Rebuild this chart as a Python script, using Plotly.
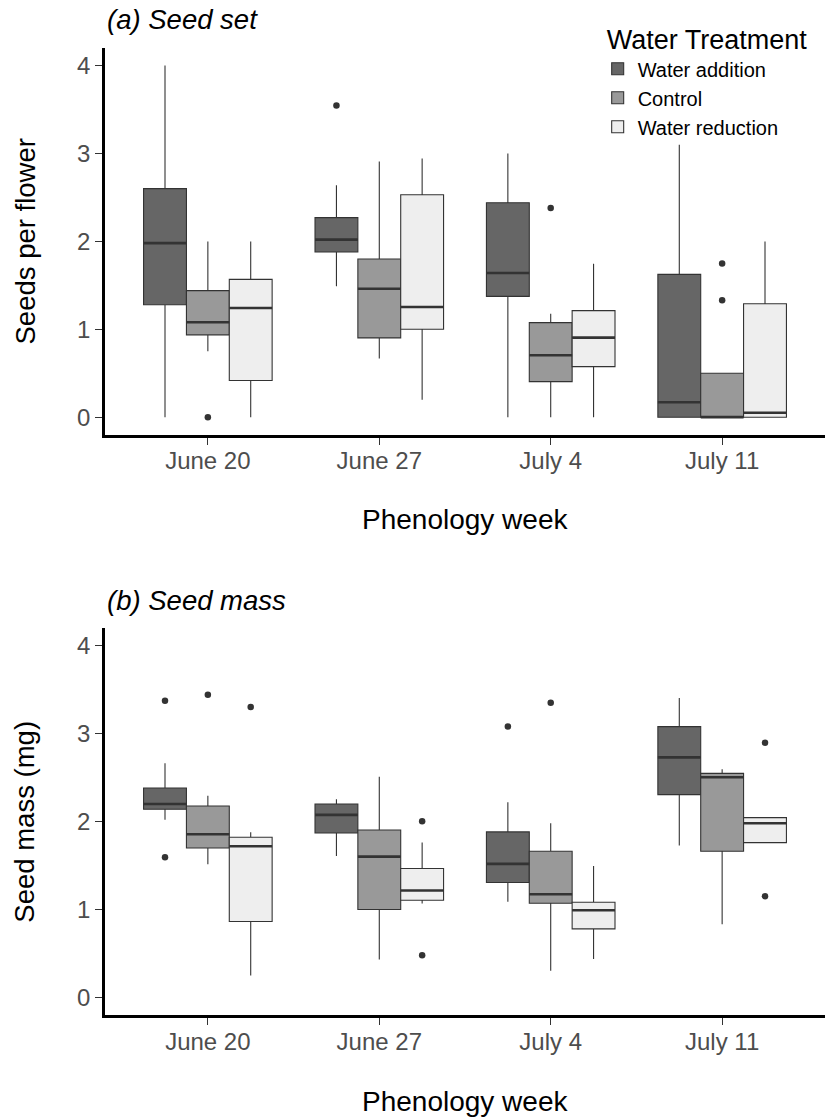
import plotly.graph_objects as go

weeks = ["June 20", "June 27", "July 4", "July 11"]
treatments = ["Water addition", "Control", "Water reduction"]
fills = ["#666666", "#999999", "#EEEEEE"]

# (a) Seed set -- seeds per flower
set_add_lo = [0.0, 1.49, 0.0, 0.0]
set_add_q1 = [1.28, 1.88, 1.375, 0.0]
set_add_med = [1.98, 2.02, 1.64, 0.17]
set_add_q3 = [2.60, 2.27, 2.44, 1.625]
set_add_hi = [4.0, 2.64, 3.0, 3.1]
set_add_out = [[], [3.545], [], []]

set_ctl_lo = [0.75, 0.667, 0.0, 0.0]
set_ctl_q1 = [0.937, 0.902, 0.405, 0.0]
set_ctl_med = [1.08, 1.462, 0.705, 0.0]
set_ctl_q3 = [1.44, 1.80, 1.076, 0.5]
set_ctl_hi = [2.0, 2.91, 1.178, 0.5]
set_ctl_out = [[0.0], [], [2.38], [1.75, 1.33]]

set_red_lo = [0.0, 0.2, 0.0, 0.0]
set_red_q1 = [0.417, 1.0, 0.576, 0.0]
set_red_med = [1.242, 1.253, 0.905, 0.05]
set_red_q3 = [1.568, 2.53, 1.212, 1.29]
set_red_hi = [2.0, 2.943, 1.746, 2.0]
set_red_out = [[], [], [], []]

# (b) Seed mass (mg)
mass_add_lo = [2.02, 1.61, 1.087, 1.727]
mass_add_q1 = [2.14, 1.871, 1.307, 2.307]
mass_add_med = [2.20, 2.076, 1.519, 2.731]
mass_add_q3 = [2.383, 2.20, 1.883, 3.08]
mass_add_hi = [2.663, 2.254, 2.22, 3.405]
mass_add_out = [[3.375, 1.595], [], [3.083], []]

mass_ctl_lo = [1.515, 0.432, 0.303, 0.833]
mass_ctl_q1 = [1.70, 1.0, 1.072, 1.663]
mass_ctl_med = [1.856, 1.602, 1.174, 2.504]
mass_ctl_q3 = [2.178, 1.905, 1.663, 2.549]
mass_ctl_hi = [2.295, 2.511, 1.981, 2.595]
mass_ctl_out = [[3.443], [], [3.352], []]

mass_red_lo = [0.25, 1.068, 0.436, 1.761]
mass_red_q1 = [0.864, 1.106, 0.78, 1.761]
mass_red_med = [1.72, 1.216, 0.992, 1.981]
mass_red_q3 = [1.822, 1.466, 1.083, 2.045]
mass_red_hi = [1.879, 1.761, 1.496, 2.045]
mass_red_out = [[3.303], [2.004, 0.481], [], [2.898, 1.151]]

panels = [
    ("x", "y", [
        (set_add_lo, set_add_q1, set_add_med, set_add_q3, set_add_hi, set_add_out),
        (set_ctl_lo, set_ctl_q1, set_ctl_med, set_ctl_q3, set_ctl_hi, set_ctl_out),
        (set_red_lo, set_red_q1, set_red_med, set_red_q3, set_red_hi, set_red_out),
    ]),
    ("x2", "y2", [
        (mass_add_lo, mass_add_q1, mass_add_med, mass_add_q3, mass_add_hi, mass_add_out),
        (mass_ctl_lo, mass_ctl_q1, mass_ctl_med, mass_ctl_q3, mass_ctl_hi, mass_ctl_out),
        (mass_red_lo, mass_red_q1, mass_red_med, mass_red_q3, mass_red_hi, mass_red_out),
    ]),
]

BOXW = 0.25
offsets = [-0.25, 0.0, 0.25]
FONT = "Liberation Sans, Arial, Helvetica, sans-serif"
DARK = "#333333"

fig = go.Figure()
for p, (xa, ya, groups) in enumerate(panels):
    for t, (lo, q1, med, q3, hi, outs) in enumerate(groups):
        pos = [i + 1 + offsets[t] for i in range(len(weeks))]
        fig.add_trace(go.Box(
            x=pos, lowerfence=lo, q1=q1, median=med, q3=q3, upperfence=hi,
            width=BOXW, whiskerwidth=0, boxpoints=False,
            fillcolor=fills[t], line=dict(color=DARK, width=1.1),
            name=treatments[t], legendgroup=treatments[t],
            showlegend=(p == 0), xaxis=xa, yaxis=ya, hoverinfo="skip",
        ))
    # thicker median bars
    for t, (lo, q1, med, q3, hi, outs) in enumerate(groups):
        mx, my = [], []
        for i in range(len(weeks)):
            c = i + 1 + offsets[t]
            mx += [c - BOXW / 2, c + BOXW / 2, None]
            my += [med[i], med[i], None]
        fig.add_trace(go.Scatter(x=mx, y=my, mode="lines",
                                 line=dict(color=DARK, width=2.6),
                                 showlegend=False, xaxis=xa, yaxis=ya, hoverinfo="skip"))
    # outliers
    ox, oy = [], []
    for t, (lo, q1, med, q3, hi, outs) in enumerate(groups):
        for i, vals in enumerate(outs):
            for v in vals:
                ox.append(i + 1 + offsets[t])
                oy.append(v)
    fig.add_trace(go.Scatter(x=ox, y=oy, mode="markers",
                             marker=dict(color=DARK, size=6.5),
                             showlegend=False, xaxis=xa, yaxis=ya, hoverinfo="skip"))

xcommon = dict(range=[0.4, 4.6], tickmode="array", tickvals=[1, 2, 3, 4], ticktext=weeks,
               showline=True, linecolor="black", linewidth=2.5, showgrid=False, zeroline=False,
               ticks="outside", ticklen=7, tickwidth=1, tickcolor=DARK, ticklabelstandoff=-4,
               tickfont=dict(family=FONT, size=24, color="#4D4D4D"))
ycommon = dict(range=[-0.2, 4.2], tickmode="array", tickvals=[0, 1, 2, 3, 4],
               showline=True, linecolor="black", linewidth=2.5, showgrid=False, zeroline=False,
               ticks="outside", ticklen=7, tickwidth=1, tickcolor=DARK,
               tickfont=dict(family=FONT, size=24, color="#4D4D4D"))

fig.update_layout(
    width=825, height=1118,
    margin=dict(l=105, r=0, t=48, b=103),
    paper_bgcolor="white", plot_bgcolor="white",
    boxmode="overlay",
    xaxis=dict(domain=[0, 1], anchor="y", **xcommon),
    yaxis=dict(domain=[0.6, 1.0], anchor="x", **ycommon),
    xaxis2=dict(domain=[0, 1], anchor="y2", **xcommon),
    yaxis2=dict(domain=[0.0, 0.4], anchor="x2", **ycommon),
    legend=dict(title=dict(text="Water Treatment", font=dict(family=FONT, size=27, color="black")),
                font=dict(family=FONT, size=20, color="black"),
                x=0.694, y=1.035, xanchor="left", yanchor="top", indentation=-7,
                bgcolor="rgba(0,0,0,0)", tracegroupgap=0, itemwidth=30),
    showlegend=True,
)

ann = [
    dict(text="<i>(a) Seed set</i>", x=0, y=1.029, xanchor="left", yanchor="middle", size=27.5),
    dict(text="<i>(b) Seed mass</i>", x=0, y=0.429, xanchor="left", yanchor="middle", size=27.5),
    dict(text="Phenology week", x=0.5, y=0.512, xanchor="center", yanchor="middle", size=28),
    dict(text="Phenology week", x=0.5, y=-0.089, xanchor="center", yanchor="middle", size=28),
]
for a in ann:
    fig.add_annotation(text=a["text"], x=a["x"], y=a["y"], xref="paper", yref="paper",
                       xanchor=a["xanchor"], yanchor=a["yanchor"], showarrow=False,
                       font=dict(family=FONT, size=a["size"], color="black"))
for txt, yc in [("Seeds per flower", 0.8), ("Seed mass (mg)", 0.2)]:
    fig.add_annotation(text=txt, x=-0.111, y=yc, xref="paper", yref="paper",
                       xanchor="center", yanchor="middle", textangle=-90, showarrow=False,
                       font=dict(family=FONT, size=27.5, color="black"))

fig.write_html("out.html")
